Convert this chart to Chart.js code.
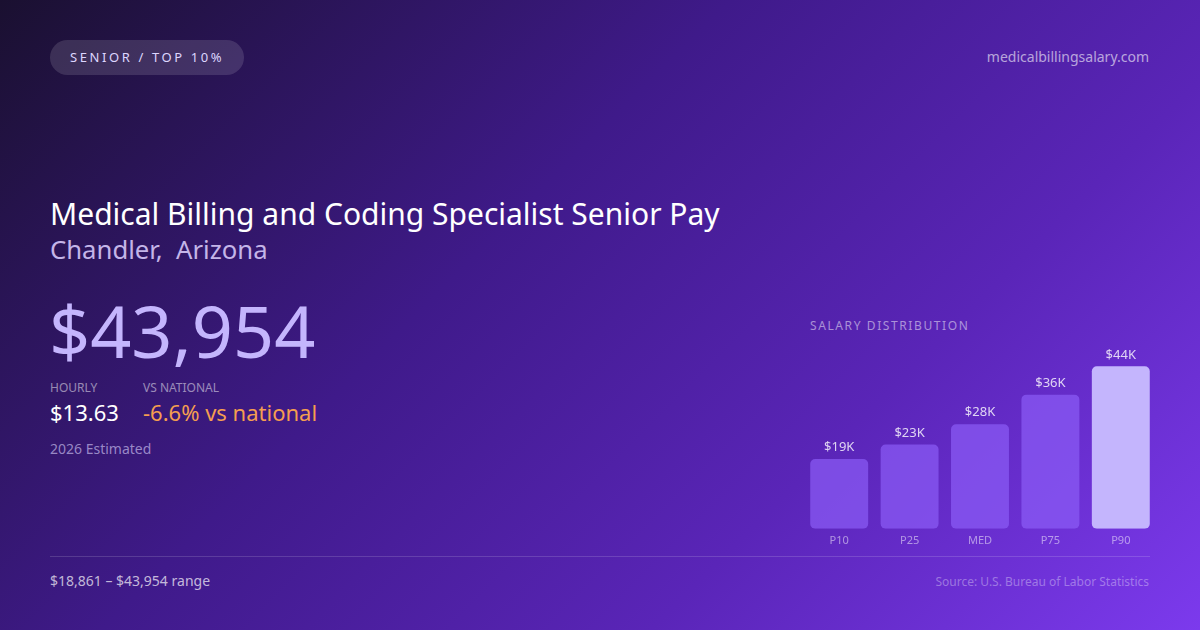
<!DOCTYPE html>
<html>
<head>
<meta charset="utf-8">
<script src="https://cdn.jsdelivr.net/npm/chart.js@4.4.1/dist/chart.umd.min.js"></script>
<style>
  html, body { margin: 0; padding: 0; }
  body {
    width: 1200px; height: 630px; overflow: hidden; position: relative;
    font-family: "Noto Sans", "Open Sans", sans-serif;
    background: linear-gradient(135deg, #1a1030 0%, #3f1a8a 40%, #5a25b8 70%, #7c3aed 100%);
    color: #fff;
  }
  .abs { position: absolute; white-space: nowrap; }
  #badge {
    left: 50px; top: 40px; height: 35px; line-height: 35px; padding: 0 20px;
    border-radius: 18px; background: rgba(255,255,255,0.13);
    font-size: 13px; letter-spacing: 2.6px; color: #ddd6fe;
  }
  #site { right: 51px; top: 47px; font-size: 14px; color: rgba(255,255,255,0.6); }
  #title { left: 50px; top: 193px; font-size: 30px; color: #fff; }
  #sub { left: 50px; top: 232px; font-size: 25.7px; color: #c4b5e8; }
  #big { left: 49px; top: 287px; font-size: 72px; color: #c4b5fd; line-height: 1.2; }
  .lbl { font-size: 12px; color: rgba(255,255,255,0.5); top: 379px; }
  .val { font-size: 22px; top: 397px; }
  #est { left: 50px; top: 439px; font-size: 14px; color: rgba(221,214,254,0.6); }
  #rule { left: 50px; top: 556px; width: 1100px; height: 1px; background: rgba(255,255,255,0.15); }
  #range { left: 50px; top: 571px; font-size: 14px; color: rgba(255,255,255,0.7); }
  #src { right: 51px; top: 573px; font-size: 12px; color: rgba(255,255,255,0.35); }
  #dist { left: 810px; top: 317px; font-size: 12px; letter-spacing: 1.6px; color: rgba(255,255,255,0.5); }
  #chart { position: absolute; left: 804px; top: 344px; }
</style>
</head>
<body>
<div class="abs" id="badge">SENIOR / TOP 10%</div>
<div class="abs" id="site">medicalbillingsalary.com</div>
<div class="abs" id="title">Medical Billing and Coding Specialist Senior Pay</div>
<div class="abs" id="sub">Chandler,&nbsp; Arizona</div>
<div class="abs" id="big">$43,954</div>
<div class="abs lbl" style="left:50px">HOURLY</div>
<div class="abs lbl" style="left:143px">VS NATIONAL</div>
<div class="abs val" style="left:50px;color:#fff">$13.63</div>
<div class="abs val" style="left:143px;color:#f59e50">-6.6% vs national</div>
<div class="abs" id="est">2026 Estimated</div>
<div class="abs" id="dist">SALARY DISTRIBUTION</div>
<canvas id="chart" width="352" height="208"></canvas>
<div class="abs" id="rule"></div>
<div class="abs" id="range">$18,861 – $43,954 range</div>
<div class="abs" id="src">Source: U.S. Bureau of Labor Statistics</div>

<script>
// percentiles shown in the distribution
const percentiles = ['P10', 'P25', 'MED', 'P75', 'P90'];
const salaries = [18861, 22800, 28300, 36300, 43954];
const barColors = ['rgba(139,92,246,0.7)', 'rgba(139,92,246,0.7)', 'rgba(139,92,246,0.7)', 'rgba(139,92,246,0.7)', '#c4b5fd'];

// etiquetas encima de cada barra
const valueLabels = {
    id: 'valueLabels',
    afterDatasetsDraw(chart) {
        const ctx = chart.ctx;
        const meta = chart.getDatasetMeta(0);
        ctx.save();
        ctx.font = '13px "Noto Sans", sans-serif';
        ctx.fillStyle = 'rgba(255,255,255,0.8)';
        ctx.textAlign = 'center';
        ctx.textBaseline = 'bottom';
        meta.data.forEach((bar, i) => {
            const txt = '$' + Math.round(salaries[i] / 1000) + 'K';
            ctx.fillText(txt, bar.x, bar.y - 5);
        });
        ctx.restore();
    }
};

const ctx = document.getElementById('chart').getContext('2d');
new Chart(ctx, {
    type: 'bar',
    data: {
        labels: percentiles,
        datasets: [{
            data: salaries,
            backgroundColor: barColors,
            borderRadius: 5,
            borderSkipped: false,
            categoryPercentage: 0.823,
            barPercentage: 1
        }]
    },
    options: {
        responsive: false,
        animation: false,
        layout: { padding: 0 },
        plugins: { legend: { display: false }, tooltip: { enabled: false } },
        scales: {
            x: {
                grid: { display: false, drawTicks: false },
                border: { display: false },
                ticks: { color: 'rgba(255,255,255,0.5)', font: { size: 11, family: '"Noto Sans", sans-serif' }, padding: 5 }
            },
            y: {
                display: false,
                min: 0,
                max: 50000
            }
        }
    },
    plugins: [valueLabels]
});
</script>
</body>
</html>
